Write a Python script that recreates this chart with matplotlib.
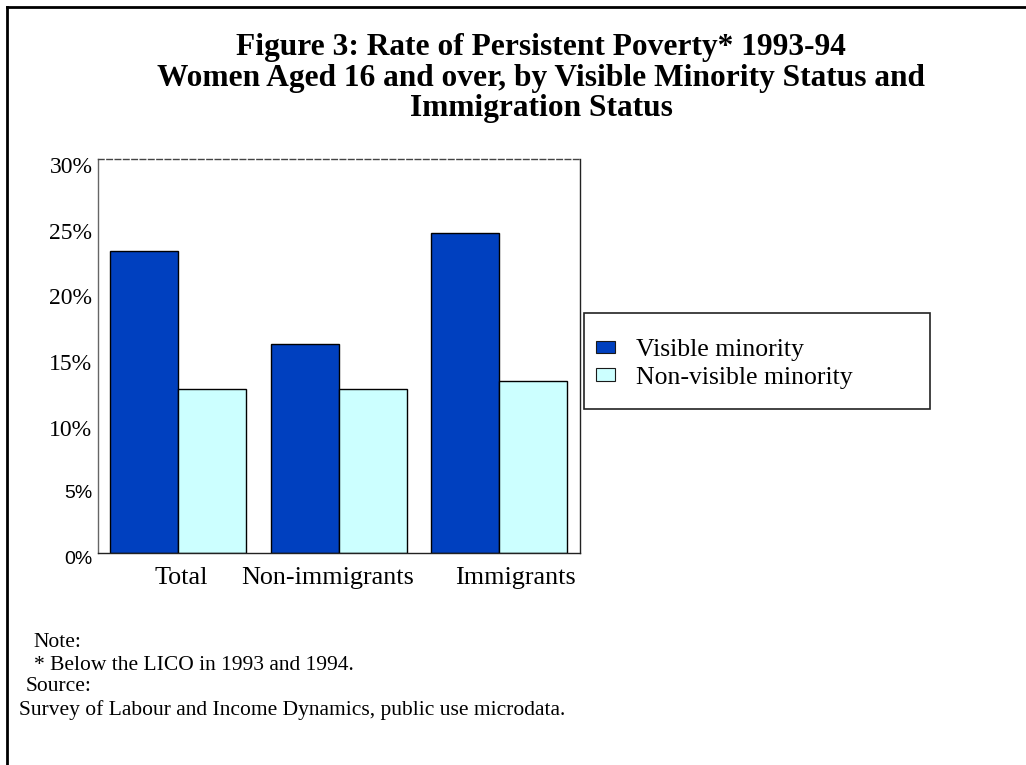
import matplotlib
matplotlib.use("Agg")
import matplotlib.pyplot as plt
from matplotlib.patches import Patch, Rectangle
from matplotlib.lines import Line2D
from matplotlib.transforms import ScaledTranslation
import numpy as np

# Data: rate of persistent poverty (%), women aged 16+, 1993-94
categories = ["Total", "Non-immigrants", "Immigrants"]
series_names = ["Visible minority", "Non-visible minority"]
visible_minority = [23.0, 15.9, 24.4]
non_visible_minority = [12.5, 12.5, 13.1]
y_ticks = [0, 5, 10, 15, 20, 25, 30]
y_tick_labels = ["0%", "5%", "10%", "15%", "20%", "25%", "30%"]

title_lines = [
    "Figure 3: Rate of Persistent Poverty* 1993-94",
    "Women Aged 16 and over, by Visible Minority Status and",
    "Immigration Status",
]
note_lines = [
    ("Note:", 33, 647),
    ("* Below the LICO in 1993 and 1994.", 34, 670),
    ("Source:", 26, 691),
    ("Survey of Labour and Income Dynamics, public use microdata.", 19, 715),
]

W, H = 1026, 765
DPI = 100
SERIF = "Liberation Serif"
SANS = "Liberation Sans"
BLUE = "#0040BF"
CYAN = "#CCFFFF"

fig = plt.figure(figsize=(W / DPI, H / DPI), dpi=DPI)
fig.patch.set_facecolor("white")


def fx(px):
    return px / W


def fy(py):
    return 1 - py / H


# Plot area
ax = fig.add_axes([fx(98), fy(553.3), fx(579.5) - fx(98), fy(159) - fy(553.3)])
x = np.arange(len(categories))
width = 0.424
ax.bar(x - width / 2, visible_minority, width, color=BLUE, edgecolor="black",
       linewidth=1.0, label=series_names[0])
ax.bar(x + width / 2, non_visible_minority, width, color=CYAN, edgecolor="black",
       linewidth=1.0, label=series_names[1])

ax.set_xlim(-0.5, 2.5)
ax.set_ylim(0, 30)

# Spines
for side in ["left", "right", "top", "bottom"]:
    ax.spines[side].set_linewidth(1.0)
ax.spines["top"].set_color("#444444")
ax.spines["top"].set_linestyle((0, (4, 2)))
ax.spines["left"].set_color("#666666")
ax.spines["right"].set_color("#222222")
ax.spines["bottom"].set_color("#222222")

# Y ticks: serif for upper labels, sans for the two lowest, set slightly low
ax.set_yticks(y_ticks)
ax.set_yticklabels(y_tick_labels)
ax.tick_params(axis="y", length=0, pad=4)
for lbl in ax.get_yticklabels():
    if lbl.get_text() in ("0%", "5%"):
        lbl.set_fontfamily(SANS)
        lbl.set_fontsize(14)
        shift = -4 / DPI
    else:
        lbl.set_fontfamily(SERIF)
        lbl.set_fontsize(17)
        shift = -6 / DPI
    lbl.set_transform(lbl.get_transform()
                      + ScaledTranslation(0, shift, fig.dpi_scale_trans))

# X category labels
label_offsets = [0.02, -0.072, 0.10]
ax.set_xticks(x + np.array(label_offsets))
ax.set_xticklabels(categories, fontfamily=SERIF, fontsize=18.8)
ax.tick_params(axis="x", length=0, pad=10)

# Legend with its own frame
frame = Rectangle((fx(583.5), fy(409)), fx(930) - fx(583.5), fy(313) - fy(409),
                  transform=fig.transFigure, facecolor="white",
                  edgecolor="#222222", linewidth=1.2)
fig.patches.append(frame)
handles = [Patch(facecolor=BLUE, edgecolor="#1a1a1a", linewidth=0.8),
           Patch(facecolor=CYAN, edgecolor="#1a1a1a", linewidth=0.8)]
leg = fig.legend(handles, series_names, loc="upper left",
                 bbox_to_anchor=(fx(596), fy(339)), frameon=False,
                 prop={"family": SERIF, "size": 18.5},
                 handlelength=0.72, handleheight=0.36, handletextpad=0.85,
                 labelspacing=0.22, borderpad=0, borderaxespad=0)

# Title
title_baselines = [55, 86, 116]
for line, yb in zip(title_lines, title_baselines):
    fig.text(fx(541), fy(yb), line, ha="center", va="baseline",
             fontfamily=SERIF, fontweight="bold", fontsize=22.6)

# Notes and source
for text, xl, yb in note_lines:
    fig.text(fx(xl), fy(yb), text, ha="left", va="baseline",
             fontfamily=SERIF, fontsize=15.5)

# Outer frame lines (top and left)
fig.lines.append(Line2D([fx(7), 1], [fy(6.5), fy(6.5)], transform=fig.transFigure,
                        color="black", linewidth=2.0))
fig.lines.append(Line2D([fx(7), fx(7)], [fy(6.5), 0], transform=fig.transFigure,
                        color="black", linewidth=2.0))

fig.savefig("out.png", dpi=DPI, facecolor="white")
